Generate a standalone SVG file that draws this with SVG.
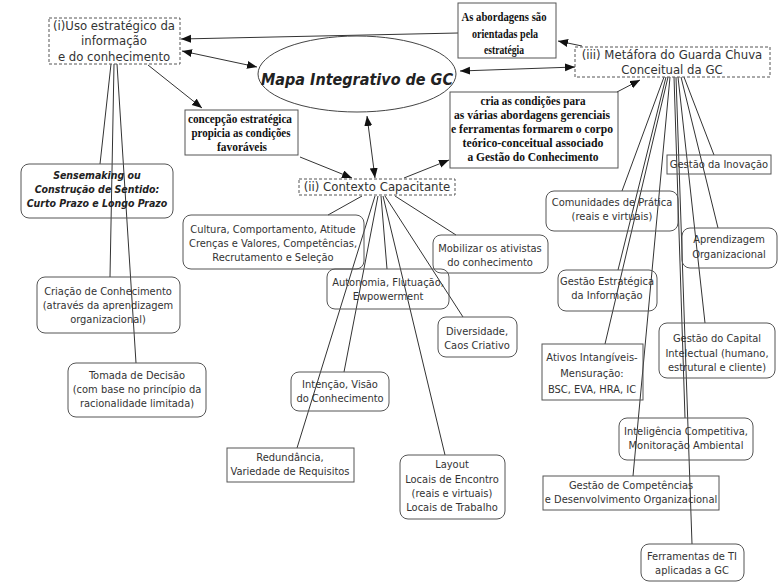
<svg xmlns="http://www.w3.org/2000/svg" width="778" height="582" viewBox="0 0 778 582">
<style>
.bg{fill:#fff}
.box{fill:none;stroke:#555;stroke-width:1}
.dash{fill:none;stroke:#555;stroke-width:1;stroke-dasharray:3 2}
.t{font-family:"DejaVu Sans Condensed","Liberation Sans",sans-serif;font-size:11px;fill:#333;text-anchor:middle}
.h{font-family:"DejaVu Sans Condensed","Liberation Sans",sans-serif;font-size:13px;fill:#333;text-anchor:middle}
.s{font-family:"Liberation Serif",serif;font-weight:bold;font-size:13px;fill:#111;text-anchor:middle}
.bi{font-family:"DejaVu Sans Condensed","Liberation Sans",sans-serif;font-weight:bold;font-style:italic;font-size:10.5px;fill:#222;text-anchor:middle}
.ln{fill:none;stroke:#333;stroke-width:1}
</style>
<defs>
<marker id="ah" markerUnits="userSpaceOnUse" markerWidth="12" markerHeight="10" refX="10" refY="4" orient="auto-start-reverse">
<path d="M0,0 L10,4 L0,8 Z" fill="#111"/>
</marker>
</defs>
<rect class="bg" x="0" y="0" width="778" height="582"/>
<g id="connectors">
<line class="ln" x1="111" y1="64" x2="100" y2="164"/>
<line class="ln" x1="114" y1="64" x2="110" y2="277"/>
<line class="ln" x1="117" y1="64" x2="136" y2="363"/>
<line class="ln" x1="362" y1="196" x2="328" y2="215"/>
<line class="ln" x1="395" y1="196" x2="456" y2="235"/>
<line class="ln" x1="375" y1="196" x2="297" y2="448"/>
<line class="ln" x1="378" y1="196" x2="344" y2="372"/>
<line class="ln" x1="381" y1="196" x2="387" y2="269"/>
<line class="ln" x1="383" y1="196" x2="445" y2="455"/>
<line class="ln" x1="385" y1="196" x2="463" y2="317"/>
<line class="ln" x1="664" y1="77" x2="622" y2="191"/>
<line class="ln" x1="666" y1="77" x2="618" y2="270"/>
<line class="ln" x1="668" y1="77" x2="605" y2="344"/>
<line class="ln" x1="670" y1="77" x2="633" y2="476"/>
<line class="ln" x1="676" y1="77" x2="692" y2="544"/>
<line class="ln" x1="674" y1="77" x2="685" y2="418"/>
<line class="ln" x1="678" y1="77" x2="705" y2="323"/>
<line class="ln" x1="681" y1="77" x2="718" y2="228"/>
<line class="ln" x1="684" y1="77" x2="714" y2="155"/>
<line class="ln" x1="458" y1="33" x2="181" y2="39" marker-end="url(#ah)"/>
<line class="ln" x1="182" y1="51" x2="257" y2="67" marker-start="url(#ah)" marker-end="url(#ah)"/>
<line class="ln" x1="148" y1="65" x2="202" y2="108" marker-end="url(#ah)"/>
<line class="ln" x1="300" y1="157" x2="352" y2="178" marker-end="url(#ah)"/>
<line class="ln" x1="367" y1="116" x2="375" y2="178" marker-start="url(#ah)" marker-end="url(#ah)"/>
<line class="ln" x1="404" y1="178" x2="449" y2="160" marker-end="url(#ah)"/>
<line class="ln" x1="460" y1="71" x2="575" y2="67" marker-start="url(#ah)" marker-end="url(#ah)"/>
<line class="ln" x1="582" y1="46" x2="558" y2="41" marker-end="url(#ah)"/>
<line class="ln" x1="617" y1="92" x2="640" y2="80" marker-end="url(#ah)"/>
</g>
<g id="n-uso">
<rect class="dash" x="49" y="18" width="131" height="46"/>
<text class="h" x="114" y="30">(i)Uso estratégico da</text>
<text class="h" x="114" y="45">informação</text>
<text class="h" x="114" y="61">e do conhecimento</text>
</g>
<g id="n-mapa">
<ellipse cx="357" cy="74" rx="99" ry="38" fill="none" stroke="#444" stroke-width="1"/>
<text x="357" y="85" style="font-family:'DejaVu Sans Condensed','Liberation Sans',sans-serif;font-weight:bold;font-style:italic;font-size:16px;fill:#222;text-anchor:middle">Mapa Integrativo de GC</text>
</g>
<g id="n-abord">
<rect class="box" x="458" y="3" width="98" height="55"/>
<text class="s" x="504" y="21" textLength="85" lengthAdjust="spacingAndGlyphs">As abordagens são</text>
<text class="s" x="505" y="38" textLength="66" lengthAdjust="spacingAndGlyphs">orientadas pela</text>
<text class="s" x="504" y="54" textLength="40" lengthAdjust="spacingAndGlyphs">estratégia</text>
</g>
<g id="n-metafora">
<rect class="dash" x="575" y="47" width="195" height="30"/>
<text class="h" x="672" y="59">(iii) Metáfora do Guarda Chuva</text>
<text class="h" x="672" y="74">Conceitual da GC</text>
</g>
<g id="n-cria">
<rect class="box" x="450" y="92" width="168" height="76"/>
<text class="s" x="533" y="105" textLength="105" lengthAdjust="spacingAndGlyphs">cria as condições para</text>
<text class="s" x="532" y="119" textLength="156" lengthAdjust="spacingAndGlyphs">as várias abordagens gerenciais</text>
<text class="s" x="532" y="133" textLength="162" lengthAdjust="spacingAndGlyphs">e ferramentas formarem o corpo</text>
<text class="s" x="533" y="147" textLength="141" lengthAdjust="spacingAndGlyphs">teórico-conceitual associado</text>
<text class="s" x="533" y="161" textLength="131" lengthAdjust="spacingAndGlyphs">a Gestão do Conhecimento</text>
</g>
<g id="n-concepcao">
<rect class="box" x="185" y="110" width="113" height="45"/>
<text class="s" x="240" y="123" textLength="104" lengthAdjust="spacingAndGlyphs">concepção estratégica</text>
<text class="s" x="241" y="137" textLength="99" lengthAdjust="spacingAndGlyphs">propicia as condições</text>
<text class="s" x="242" y="151" textLength="50" lengthAdjust="spacingAndGlyphs">favoráveis</text>
</g>
<g id="n-contexto">
<rect class="dash" x="299" y="179" width="156" height="16"/>
<text class="h" x="377" y="191">(ii) Contexto Capacitante</text>
</g>
<g id="n-sense">
<rect class="box" x="21" y="164" width="152" height="54" rx="8"/>
<text class="bi" x="97" y="179">Sensemaking ou</text>
<text class="bi" x="97" y="193">Construção de Sentido:</text>
<text class="bi" x="97" y="207">Curto Prazo e Longo Prazo</text>
</g>
<g id="n-criacao">
<rect class="box" x="37" y="277" width="143" height="56" rx="8"/>
<text class="t" x="108" y="295">Criação de Conhecimento</text>
<text class="t" x="108" y="309">(através da aprendizagem</text>
<text class="t" x="108" y="323">organizacional)</text>
</g>
<g id="n-tomada">
<rect class="box" x="68" y="363" width="138" height="54" rx="8"/>
<text class="t" x="137" y="379">Tomada de Decisão</text>
<text class="t" x="137" y="393">(com base no princípio da</text>
<text class="t" x="137" y="407">racionalidade limitada)</text>
</g>
<g id="n-cultura">
<rect class="box" x="183" y="215" width="181" height="54" rx="8"/>
<text class="t" x="273" y="233">Cultura, Comportamento, Atitude</text>
<text class="t" x="273" y="247">Crenças e Valores, Competências,</text>
<text class="t" x="273" y="261">Recrutamento e Seleção</text>
</g>
<g id="n-autonomia">
<rect class="box" x="327" y="269" width="122" height="40" rx="8"/>
<text class="t" x="388" y="286">Autonomia, Flutuação,</text>
<text class="t" x="388" y="300">Ewpowerment</text>
</g>
<g id="n-mobilizar">
<rect class="box" x="433" y="235" width="115" height="38" rx="8"/>
<text class="t" x="490" y="252">Mobilizar os ativistas</text>
<text class="t" x="490" y="266">do conhecimento</text>
</g>
<g id="n-diversidade">
<rect class="box" x="438" y="317" width="79" height="40" rx="8"/>
<text class="t" x="477" y="335">Diversidade,</text>
<text class="t" x="477" y="349">Caos Criativo</text>
</g>
<g id="n-intencao">
<rect class="box" x="291" y="372" width="98" height="39" rx="8"/>
<text class="t" x="340" y="388">Intenção, Visão</text>
<text class="t" x="340" y="402">do Conhecimento</text>
</g>
<g id="n-redundancia">
<rect class="box" x="227" y="448" width="127" height="34"/>
<text class="t" x="290" y="461">Redundância,</text>
<text class="t" x="290" y="475">Variedade de Requisitos</text>
</g>
<g id="n-layout">
<rect class="box" x="400" y="455" width="105" height="64" rx="8"/>
<text class="t" x="452" y="468">Layout</text>
<text class="t" x="452" y="483">Locais de Encontro</text>
<text class="t" x="452" y="497">(reais e virtuais)</text>
<text class="t" x="452" y="511">Locais de Trabalho</text>
</g>
<g id="n-inovacao">
<rect class="box" x="667" y="155" width="104" height="19"/>
<text class="t" x="719" y="168">Gestão da Inovação</text>
</g>
<g id="n-comunidades">
<rect class="box" x="546" y="191" width="132" height="40" rx="8"/>
<text class="t" x="612" y="206">Comunidades de Prática</text>
<text class="t" x="612" y="220">(reais e virtuais)</text>
</g>
<g id="n-aprendizagem">
<rect class="box" x="682" y="228" width="95" height="40" rx="8"/>
<text class="t" x="729" y="243">Aprendizagem</text>
<text class="t" x="729" y="258">Organizacional</text>
</g>
<g id="n-gestinfo">
<rect class="box" x="558" y="270" width="99" height="41" rx="8"/>
<text class="t" x="607" y="285">Gestão Estratégica</text>
<text class="t" x="607" y="299">da Informação</text>
</g>
<g id="n-capital">
<rect class="box" x="659" y="323" width="116" height="55" rx="8"/>
<text class="t" x="717" y="342">Gestão do Capital</text>
<text class="t" x="717" y="357">Intelectual (humano,</text>
<text class="t" x="717" y="371">estrutural e cliente)</text>
</g>
<g id="n-ativos">
<rect class="box" x="542" y="344" width="101" height="56"/>
<text class="t" x="592" y="361">Ativos Intangíveis-</text>
<text class="t" x="592" y="377">Mensuração:</text>
<text class="t" x="592" y="393">BSC, EVA, HRA, IC</text>
</g>
<g id="n-inteligencia">
<rect class="box" x="619" y="418" width="134" height="42" rx="8"/>
<text class="t" x="686" y="435">Inteligência Competitiva,</text>
<text class="t" x="686" y="449">Monitoração Ambiental</text>
</g>
<g id="n-competencias">
<rect class="box" x="543" y="476" width="176" height="34"/>
<text class="t" x="631" y="489">Gestão de Competências</text>
<text class="t" x="631" y="503">e Desenvolvimento Organizacional</text>
</g>
<g id="n-ferramentas">
<rect class="box" x="641" y="544" width="103" height="37" rx="8"/>
<text class="t" x="692" y="560">Ferramentas de TI</text>
<text class="t" x="692" y="574">aplicadas a GC</text>
</g>
</svg>
